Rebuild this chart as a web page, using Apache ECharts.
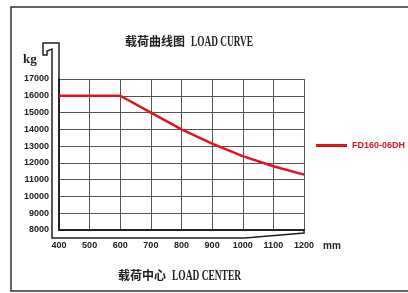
<!DOCTYPE html>
<html>
<head>
<meta charset="utf-8">
<script src="https://cdn.jsdelivr.net/npm/echarts@6/dist/echarts.min.js"></script>
<style>
  html, body { margin: 0; padding: 0; background: #fff; }
  #load_chart { width: 408px; height: 293px; }
</style>
</head>
<body>
<div id="load_chart"></div>
<script>
// 载荷中心 (mm) / 额定载荷 (kg)
var loadCenter = [400, 500, 600, 700, 800, 900, 1000, 1100, 1200]
var loadKg = [16000, 16000, 16000, 15000, 14000, 13150, 12400, 11800, 11300]
var seriesName = 'FD160-06DH'
var yMin = 8000, yMax = 17000, yStep = 1000
var xMin = 400, xMax = 1200, xStep = 100

var sans = "'Liberation Sans', Arial, sans-serif"
var red = '#e5141c'
var ink = '#222'

// 网格位置
var GL = 59, GT = 79, GR = 304, GB = 230

var chart = echarts.init(document.getElementById('load_chart'))

var option = {
  backgroundColor: '#fff',
  animation: false,
  grid: { left: GL, top: GT, right: 408 - GR, bottom: 293 - GB },
  legend: {
    data: [seriesName],
    left: 316,
    top: 141,
    padding: 0,
    icon: 'rect',
    itemWidth: 31,
    itemHeight: 3,
    selectedMode: false,
    textStyle: { color: red, fontSize: 9, fontFamily: sans, fontWeight: 'bold' }
  },
  xAxis: {
    type: 'value',
    min: xMin,
    max: xMax,
    interval: xStep,
    axisLine: { show: true, lineStyle: { color: ink, width: 2 } },
    axisTick: { show: false },
    axisLabel: {
      margin: 11, color: ink, fontSize: 9, fontFamily: sans, fontWeight: 'bold',
      formatter: function (v) { return String(v) }
    },
    splitLine: { show: true, lineStyle: { color: '#555', width: 1 } }
  },
  yAxis: {
    type: 'value',
    min: yMin,
    max: yMax,
    interval: yStep,
    axisLine: { show: true, lineStyle: { color: ink, width: 2 } },
    axisTick: { show: false },
    axisLabel: {
      margin: 10, color: ink, fontSize: 9, fontFamily: sans, fontWeight: 'bold',
      formatter: function (v) { return String(v) }
    },
    splitLine: { show: true, lineStyle: { color: '#555', width: 1 } }
  },
  series: [
    {
      name: seriesName,
      type: 'line',
      symbol: 'none',
      lineStyle: { color: red, width: 2.5 },
      itemStyle: { color: red },
      emphasis: { disabled: true },
      data: loadCenter.map(function (c, i) { return [c, loadKg[i]] })
    }
  ],
  graphic: [
    // 外框
    {
      type: 'rect',
      shape: { x: 11, y: 7, width: 420, height: 284 },
      style: { fill: 'none', stroke: '#333', lineWidth: 1.5 },
      silent: true
    },
    // 货叉轮廓
    {
      type: 'polyline',
      shape: {
        points: [[GL, GB], [GL, 43], [43, 43], [43, 55], [47, 55], [47, 51], [52, 49],
          [52, 238], [245, 238], [GR, 233], [GR, GB]]
      },
      style: { fill: 'none', stroke: ink, lineWidth: 1.5 },
      silent: true
    },
    {
      type: 'text', left: 125, top: 35,
      style: { text: '载荷曲线图', font: "bold 12px 'Noto Sans CJK SC'", fill: ink }
    },
    {
      type: 'text', x: 191, y: 35, scaleX: 0.62,
      style: { text: 'LOAD CURVE', font: "bold 15px 'Liberation Serif'", fill: ink }
    },
    {
      type: 'text', left: 118, top: 269,
      style: { text: '载荷中心', font: "bold 12px 'Noto Sans CJK SC'", fill: ink }
    },
    {
      type: 'text', x: 172, y: 269, scaleX: 0.63,
      style: { text: 'LOAD CENTER', font: "bold 15px 'Liberation Serif'", fill: ink }
    },
    {
      type: 'text', left: 23, top: 53,
      style: { text: 'kg', font: "bold 13px 'Liberation Serif'", fill: ink }
    },
    {
      type: 'text', left: 323, top: 241,
      style: { text: 'mm', font: "bold 10px " + sans, fill: ink }
    }
  ]
}

chart.setOption(option)
</script>
</body>
</html>
